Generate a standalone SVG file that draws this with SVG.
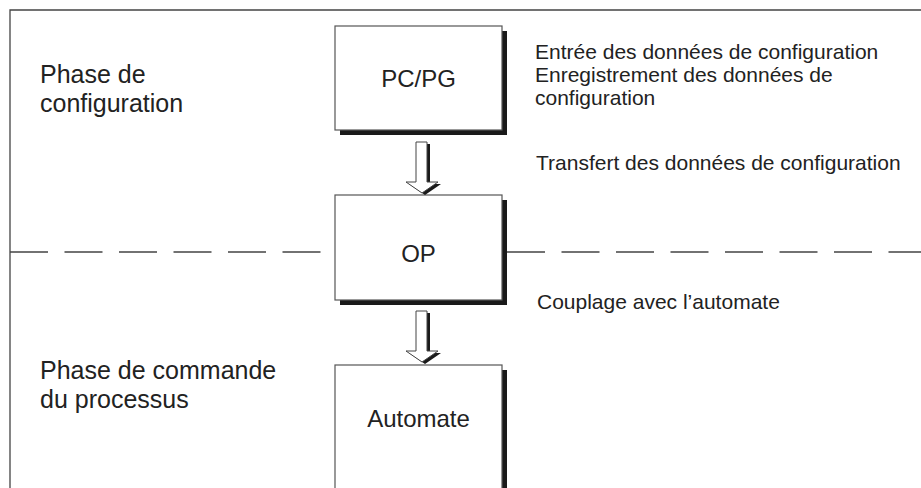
<svg xmlns="http://www.w3.org/2000/svg" width="921" height="488" viewBox="0 0 921 488">
<style>
text{font-family:"Liberation Sans",Arial,sans-serif;fill:#222}
.lbl{font-size:24px}
.side{font-size:25px}
.box{fill:#fff;stroke:#555;stroke-width:1.2}
.sh{fill:#1a1a1a}
.note{font-size:21px}
.frame{stroke:#444;stroke-width:1.3;fill:none}
.dash{stroke:#444;stroke-width:1.3;stroke-dasharray:38 16.5;fill:none}
.arr{fill:#fff;stroke:#444;stroke-width:1}
</style>
<defs>
<path id="arrow" d="M-6,0 H5 V40 H16 L0,51 L-16,40 H-6 Z"/>
</defs>
<rect width="921" height="488" fill="#fff"/>
<g id="frame">
<path class="frame" d="M10,488 V10 H921"/>
</g>
<g id="separator">
<path class="dash" d="M10,252 H335"/>
<path class="dash" d="M507,252 H921"/>
</g>
<g id="phase-config-label">
<text class="side" x="40" y="83">Phase de</text>
<text class="side" x="40" y="112">configuration</text>
</g>
<g id="phase-process-label">
<text class="side" x="40" y="379">Phase de commande</text>
<text class="side" x="40" y="408">du processus</text>
</g>
<g id="pcpg">
<rect class="sh" x="340" y="31" width="167" height="104"/>
<rect class="box" x="335" y="26" width="167" height="104"/>
<text class="lbl" x="418.5" y="87" text-anchor="middle">PC/PG</text>
</g>
<g id="op">
<rect class="sh" x="340" y="200" width="167" height="105"/>
<rect class="box" x="335" y="195" width="167" height="105"/>
<text class="lbl" x="418.5" y="262" text-anchor="middle">OP</text>
</g>
<g id="automate">
<rect class="sh" x="340" y="370" width="167" height="130"/>
<rect class="box" x="335" y="365" width="167" height="130"/>
<text class="lbl" x="418.5" y="427" text-anchor="middle">Automate</text>
</g>
<g id="connectors">
<g transform="translate(422,142)">
<use href="#arrow" class="sh" transform="translate(3,2)"/>
<use href="#arrow" class="arr"/>
</g>
<g transform="translate(422,311)">
<use href="#arrow" class="sh" transform="translate(3,2)"/>
<use href="#arrow" class="arr"/>
</g>
</g>
<g id="notes">
<text class="note" x="535" y="59">Entrée des données de configuration</text>
<text class="note" x="535" y="82">Enregistrement des données de</text>
<text class="note" x="535" y="105">configuration</text>
<text class="note" x="536" y="170">Transfert des données de configuration</text>
<text class="note" x="537" y="309">Couplage avec l’automate</text>
</g>
</svg>
